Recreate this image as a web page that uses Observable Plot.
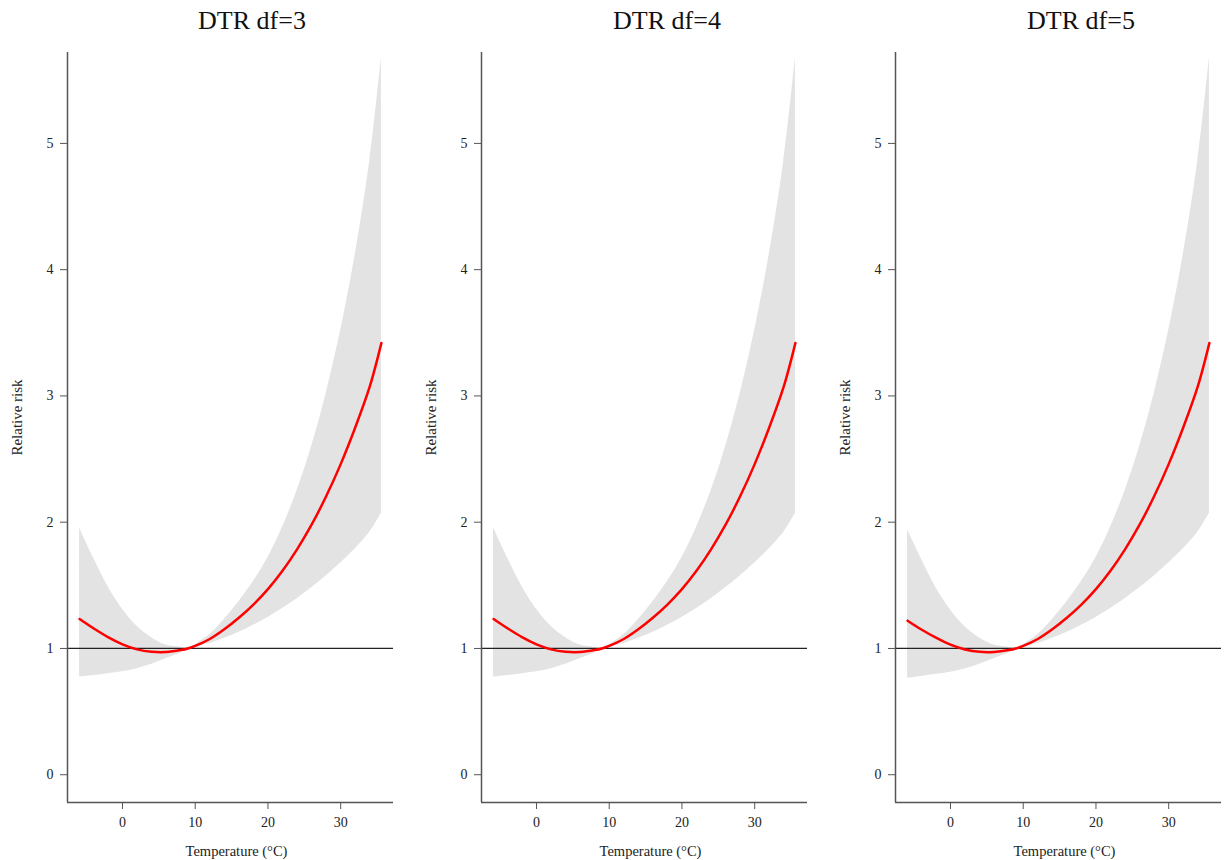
<!DOCTYPE html>
<html><head><meta charset="utf-8">
<script src="https://cdn.jsdelivr.net/npm/d3@7"></script>
<script src="https://cdn.jsdelivr.net/npm/@observablehq/plot@0.6"></script>
<style>
body{margin:0;background:#fff;}
#wrap{position:relative;width:1226px;height:860px;overflow:hidden;font-family:"Liberation Serif","Times New Roman",serif;background:#fff;}
.title{position:absolute;top:6px;font-size:26px;line-height:30px;transform:translateX(-50%);white-space:nowrap;color:#111;}
</style></head><body><div id="wrap"></div>
<script>
// Temperature grid (°C)
const temps = [-5.9, -4, -2, 0, 2, 4, 6, 8, 9, 10, 12, 14, 16, 18, 20, 22, 24, 26, 28, 30, 32, 34, 35.6];

// DTR df=3
const rr3   = [1.233, 1.16, 1.09, 1.033, 0.993, 0.974, 0.972, 0.987, 1.0, 1.02, 1.075, 1.152, 1.243, 1.348, 1.47, 1.615, 1.785, 1.98, 2.205, 2.46, 2.75, 3.075, 3.42];
const low3  = [0.773, 0.785, 0.80, 0.815, 0.84, 0.875, 0.92, 0.965, 1.0, 1.01, 1.04, 1.08, 1.128, 1.184, 1.246, 1.316, 1.394, 1.48, 1.574, 1.676, 1.79, 1.92, 2.07];
const high3 = [1.955, 1.72, 1.49, 1.31, 1.175, 1.085, 1.027, 1.01, 1.0, 1.03, 1.11, 1.23, 1.37, 1.53, 1.72, 1.96, 2.25, 2.60, 3.02, 3.52, 4.12, 4.86, 5.68];

// DTR df=4
const rr4   = [1.233, 1.16, 1.09, 1.033, 0.993, 0.974, 0.972, 0.987, 1.0, 1.02, 1.075, 1.152, 1.243, 1.348, 1.47, 1.615, 1.785, 1.98, 2.205, 2.46, 2.75, 3.075, 3.42];
const low4  = [0.772, 0.785, 0.80, 0.815, 0.84, 0.875, 0.92, 0.965, 1.0, 1.01, 1.04, 1.08, 1.128, 1.184, 1.246, 1.316, 1.394, 1.48, 1.574, 1.676, 1.79, 1.92, 2.07];
const high4 = [1.957, 1.72, 1.49, 1.31, 1.175, 1.085, 1.027, 1.01, 1.0, 1.03, 1.11, 1.23, 1.37, 1.53, 1.72, 1.96, 2.25, 2.60, 3.02, 3.52, 4.12, 4.86, 5.68];

// DTR df=5
const rr5   = [1.22, 1.15, 1.085, 1.03, 0.992, 0.973, 0.972, 0.987, 1.0, 1.02, 1.075, 1.152, 1.243, 1.348, 1.47, 1.615, 1.785, 1.98, 2.205, 2.46, 2.75, 3.075, 3.42];
const low5  = [0.764, 0.778, 0.795, 0.812, 0.838, 0.874, 0.92, 0.965, 1.0, 1.01, 1.04, 1.08, 1.128, 1.184, 1.246, 1.316, 1.394, 1.48, 1.574, 1.676, 1.79, 1.92, 2.07];
const high5 = [1.94, 1.71, 1.48, 1.305, 1.172, 1.083, 1.027, 1.01, 1.0, 1.03, 1.11, 1.23, 1.37, 1.53, 1.72, 1.96, 2.25, 2.60, 3.02, 3.52, 4.12, 4.86, 5.68];

const titles = ["DTR df=3", "DTR df=4", "DTR df=5"];
const xTicks = [0, 10, 20, 30];
const yTicks = [0, 1, 2, 3, 4, 5];
const xLabel = "Temperature (°C)";
const yLabel = "Relative risk";
const refRR = 1;

const series = [
  {rr: rr3, lo: low3, hi: high3},
  {rr: rr4, lo: low4, hi: high4},
  {rr: rr5, lo: low5, hi: high5}
];

// R-style 4% axis extension
const xmin = -5.9, xmax = 35.6, ymin = 0, ymax = 5.5;
const xpad = (xmax - xmin) * 0.04, ypad = (ymax - ymin) * 0.04;
const xDomain = [xmin - xpad, xmax + xpad];
const yDomain = [ymin - ypad, ymax + ypad];

const wrap = document.getElementById("wrap");
const panelLeft = [0, 414, 828];
const titleCenter = [252, 667, 1081];
const font = '"Liberation Serif","Times New Roman",serif';

series.forEach((s, k) => {
  const data = temps.map((t, i) => ({t, rr: s.rr[i], lo: s.lo[i], hi: s.hi[i]}));
  const plot = Plot.plot({
    width: 398,
    height: 820,
    marginLeft: 67,
    marginRight: 5,
    marginTop: 12,
    marginBottom: 58,
    style: {fontFamily: font, fontSize: "14px", background: "#fff", color: "#222"},
    x: {domain: xDomain},
    y: {domain: yDomain},
    marks: [
      Plot.areaY(data, {x: "t", y1: "lo", y2: "hi", fill: "#e3e3e3", curve: "catmull-rom"}),
      Plot.ruleY([refRR], {stroke: "#222", strokeWidth: 1.2}),
      Plot.line(data, {x: "t", y: "rr", stroke: "#ff0000", strokeWidth: 2.5, curve: "catmull-rom"}),
      Plot.ruleX([xDomain[0]], {stroke: "#555", strokeWidth: 1.5}),
      Plot.ruleY([yDomain[0]], {stroke: "#555", strokeWidth: 1.5}),
      Plot.axisX({ticks: xTicks, tickSize: 7, tickPadding: 8, stroke: "#555", fill: "#222", fontSize: 14, label: null, tickFormat: d => String(d)}),
      Plot.axisY({ticks: yTicks, tickSize: 7, tickPadding: 7, stroke: "#555", fill: "#222", fontSize: 14, label: null, tickFormat: d => String(d)}),
      Plot.text([xLabel], {frameAnchor: "bottom", textAnchor: "middle", dx: 6, dy: 53, fill: "#222", fontSize: 14.5}),
      Plot.text([yLabel], {frameAnchor: "left", textAnchor: "middle", rotate: -90, dx: -50, dy: -10, fill: "#222", fontSize: 15})
    ]
  });
  plot.style.position = "absolute";
  plot.style.left = panelLeft[k] + "px";
  plot.style.top = "40px";
  wrap.appendChild(plot);

  const t = document.createElement("div");
  t.className = "title";
  t.style.left = titleCenter[k] + "px";
  t.textContent = titles[k];
  wrap.appendChild(t);
});
</script>
</body></html>
